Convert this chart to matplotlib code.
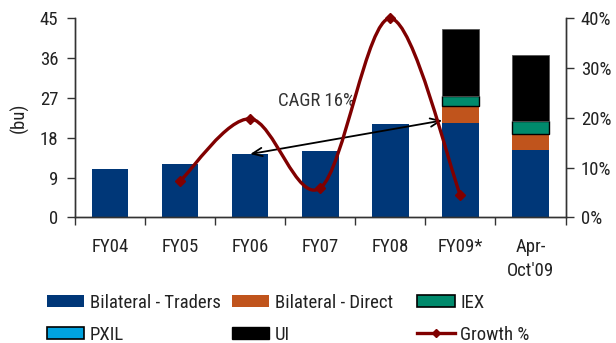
import matplotlib
matplotlib.use("Agg")
import matplotlib.pyplot as plt
import numpy as np
from matplotlib.path import Path
from matplotlib.patches import PathPatch, Patch
from matplotlib.lines import Line2D
from matplotlib.ticker import FixedLocator, FuncFormatter

plt.rcParams['font.family'] = ['Roboto Condensed', 'DejaVu Sans']

# Traded volumes (billion units) and yearly growth
categories = ["FY04", "FY05", "FY06", "FY07", "FY08", "FY09*", "Apr-\nOct'09"]
traders = [11.0, 12.0, 14.3, 15.0, 21.0, 21.4, 15.2]
direct = [0, 0, 0, 0, 0, 3.7, 3.6]
iex = [0, 0, 0, 0, 0, 2.3, 3.0]
pxil = [0, 0, 0, 0, 0, 0, 0]
ui = [0, 0, 0, 0, 0, 15.1, 15.0]
growth_idx = [1, 2, 3, 4, 5]
growth = [7.3, 19.8, 5.9, 40.0, 4.4]  # %
cagr_label = "CAGR 16%"

C_TRADERS = "#003778"
C_DIRECT = "#C0541C"
C_IEX = "#008A6C"
C_PXIL = "#00A3E0"
C_UI = "#000000"
C_LINE = "#800000"
TXT = "#222222"
FS = 13.5

fig = plt.figure(figsize=(6.16, 3.43), dpi=100)
ax = fig.add_axes([0.1218, 0.3665, 0.7963, 0.580])
ax2 = ax.twinx()

x = np.arange(len(categories))
w = 0.52


def stack(values, bottom, **kw):
    v = np.asarray(values, dtype=float)
    m = v > 0
    if m.any():
        ax.bar(x[m], v[m], w, bottom=bottom[m], zorder=2, **kw)
    return bottom + v


b = np.zeros(len(x))
b = stack(traders, b, color=C_TRADERS, linewidth=0)
b = stack(direct, b, color=C_DIRECT, linewidth=0)
b = stack(iex, b, color=C_IEX, edgecolor="black", linewidth=1.0)
b = stack(pxil, b, color=C_PXIL, edgecolor="black", linewidth=1.0)
b = stack(ui, b, color=C_UI, edgecolor="#555555", linewidth=0.6)

ax.set_xlim(-0.5, len(x) - 0.5)
ax.set_ylim(0, 45)
ax.set_yticks(np.arange(0, 46, 9))
ax.xaxis.set_major_locator(FixedLocator(np.arange(-0.5, len(x), 1.0)))
ax.xaxis.set_major_formatter(FuncFormatter(lambda v, p: ""))
ax.xaxis.set_minor_locator(FixedLocator(x))
ax.set_xticklabels(categories, minor=True)
for lbl in ax.get_xticklabels(minor=True):
    lbl.set_linespacing(1.45)
ax.tick_params(axis="x", which="major", direction="out", length=6, width=1, color="#333333")
ax.tick_params(axis="x", which="minor", length=0, pad=15, labelsize=FS, labelcolor=TXT)
ax.tick_params(axis="y", direction="out", length=6, width=1, pad=6, labelsize=FS,
               labelcolor=TXT, color="#333333")
ax.set_ylabel("(bu)", fontsize=FS, color=TXT, labelpad=8)

ax.spines["top"].set_visible(False)
ax2.spines["top"].set_visible(False)
for a in (ax, ax2):
    for s in ["left", "right", "bottom"]:
        a.spines[s].set_color("#333333")
        a.spines[s].set_linewidth(1.0)

ax2.set_ylim(0, 40)
ax2.set_yticks(np.arange(0, 41, 10))
ax2.yaxis.set_major_formatter(FuncFormatter(lambda v, p: f"{v:.0f}%"))
ax2.tick_params(axis="y", direction="out", length=6, width=1, pad=5, labelsize=FS,
                labelcolor=TXT, color="#333333")

# Smoothed growth line (cubic Bezier through the points)
pts = np.column_stack([growth_idx, growth]).astype(float)
n = len(pts)
verts = [pts[0]]
codes = [Path.MOVETO]
for i in range(n - 1):
    p0 = pts[max(i - 1, 0)]
    p1 = pts[i]
    p2 = pts[i + 1]
    p3 = pts[min(i + 2, n - 1)]
    c1 = p1 + (p2 - p0) / 6.0
    c2 = p2 - (p3 - p1) / 6.0
    verts += [c1, c2, p2]
    codes += [Path.CURVE4] * 3
ax2.add_patch(PathPatch(Path(verts, codes), facecolor="none", edgecolor=C_LINE,
                        linewidth=2.4, zorder=4, clip_on=False, capstyle="round",
                        joinstyle="round"))
ax2.plot(growth_idx, growth, linestyle="none", marker="D", markersize=5,
         color=C_LINE, zorder=5, clip_on=False)

# CAGR arrow between FY06 and FY09
ax.annotate("", xy=(2, traders[2]), xytext=(5 - w / 2, traders[5] + 0.5),
            arrowprops=dict(arrowstyle="<->,head_length=0.7,head_width=0.3",
                            color="black", lw=1.3, shrinkA=0, shrinkB=0),
            zorder=6)
ax.text(2.94, 26.2, cagr_label, ha="center", va="center", fontsize=FS,
        color="#333333", zorder=6)

# Legend in three fixed columns
h_traders = Patch(facecolor=C_TRADERS, edgecolor="none")
h_direct = Patch(facecolor=C_DIRECT, edgecolor="none")
h_iex = Patch(facecolor=C_IEX, edgecolor="black", linewidth=1.2)
h_pxil = Patch(facecolor=C_PXIL, edgecolor="black", linewidth=1.2)
h_ui = Patch(facecolor=C_UI, edgecolor="black")
h_growth = Line2D([], [], color=C_LINE, linewidth=2.4, marker="D", markersize=4)

cols = [([h_traders, h_pxil], ["Bilateral - Traders", "PXIL"]),
        ([h_direct, h_ui], ["Bilateral - Direct", "UI"]),
        ([h_iex, h_growth], ["IEX", "Growth %"])]
col_x = [46.7, 231.7, 417.0]
for (hs, ls), cx in zip(cols, col_x):
    fig.legend(hs, ls, loc="upper left",
               bbox_to_anchor=(cx / 616.0, 1 - 294.0 / 343.0),
               frameon=False, fontsize=FS, handlelength=2.0, handleheight=0.6,
               handletextpad=0.3, labelspacing=0.72, borderpad=0, borderaxespad=0,
               labelcolor=TXT)

fig.savefig("out.png", dpi=100)
